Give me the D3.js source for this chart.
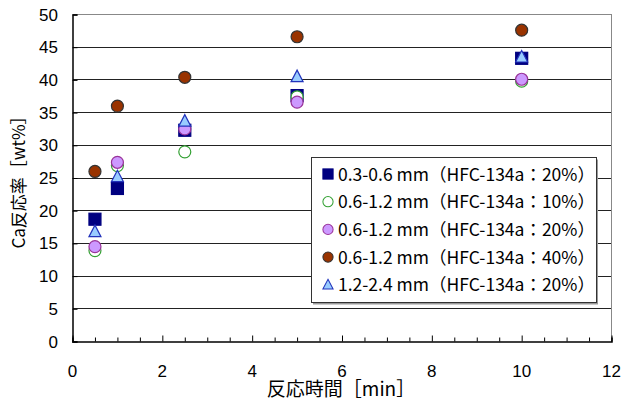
<!DOCTYPE html>
<html>
<head>
<meta charset="utf-8">
<script src="https://cdn.jsdelivr.net/npm/d3@7"></script>
<style>
  body { margin: 0; background: #fff; }
  text { font-family: "Liberation Sans", Arial, sans-serif; }
  .jp { font-family: "Noto Sans CJK JP", sans-serif; }
</style>
</head>
<body>
<div id="chart"></div>
<script>
// data
const times = [0.5, 1, 2.5, 5, 10];
const s1 = [18.7, 23.4, 32.3, 37.6, 43.3];   // 0.3-0.6 mm, 20%
const s2 = [13.9, 26.9, 29.0, 37.4, 39.8];   // 0.6-1.2 mm, 10%
const s3 = [14.5, 27.4, 32.5, 36.6, 40.1];   // 0.6-1.2 mm, 20%
const s4 = [26.0, 36.0, 40.4, 46.6, 47.6];   // 0.6-1.2 mm, 40%
const s5 = [16.8, 25.2, 33.7, 40.5, 43.5];   // 1.2-2.4 mm, 20%
const labels = [
  "0.3-0.6 mm（HFC-134a：20%）",
  "0.6-1.2 mm（HFC-134a：10%）",
  "0.6-1.2 mm（HFC-134a：20%）",
  "0.6-1.2 mm（HFC-134a：40%）",
  "1.2-2.4 mm（HFC-134a：20%）"
];
const xTicks = [0, 2, 4, 6, 8, 10, 12];
const yTicks = [0, 5, 10, 15, 20, 25, 30, 35, 40, 45, 50];

const width = 623;
const height = 398;
const margin = {left: 72.5, right: 11.5, top: 14.5, bottom: 56.5};

const series = [
  {values: s1, shape: "square", fill: "#000080", stroke: "#000080"},
  {values: s2, shape: "circle", fill: "#ffffff", stroke: "#33a033"},
  {values: s3, shape: "circle", fill: "#cc99ff", stroke: "#993399"},
  {values: s4, shape: "circle", fill: "#993300", stroke: "#333333"},
  {values: s5, shape: "triangle", fill: "#99ccff", stroke: "#2233bb"}
];

let svg = d3.select("#chart")
    .append("svg")
    .attr("width", width)
    .attr("height", height);

let xScale = d3.scaleLinear()
    .domain([0, 12])
    .range([margin.left, width - margin.right]);

let yScale = d3.scaleLinear()
    .domain([0, 50])
    .range([height - margin.bottom, margin.top]);

// grid lines
svg.selectAll("line.grid")
    .data(yTicks.filter(d => d > 0 && d < 50))
    .join("line")
    .classed("grid", true)
    .attr("x1", xScale(0))
    .attr("x2", xScale(12))
    .attr("y1", d => yScale(d))
    .attr("y2", d => yScale(d))
    .attr("stroke", "#222")
    .attr("shape-rendering", "crispEdges");

// plot frame (top and right in grey)
svg.append("path")
    .attr("d", `M${xScale(0)},${yScale(50)}H${xScale(12)}V${yScale(0)}`)
    .attr("fill", "none")
    .attr("stroke", "#888")
    .attr("shape-rendering", "crispEdges");

// axes
let xAxis = d3.axisBottom(xScale)
    .tickValues(d3.range(0, 12.01, 0.5))
    .tickSize(-4)
    .tickFormat("");
let gx = svg.append("g")
    .attr("transform", `translate(0, ${yScale(0)})`)
    .call(xAxis);
gx.select(".domain").attr("stroke", "#000").attr("stroke-width", 1.5);
gx.selectAll(".tick line")
    .attr("stroke", "#000")
    .attr("y2", d => d % 2 === 0 ? -6 : -4);

svg.selectAll("text.xlab")
    .data(xTicks)
    .join("text")
    .classed("xlab", true)
    .attr("x", d => xScale(d))
    .attr("y", 377)
    .attr("text-anchor", "middle")
    .style("font-size", "17px")
    .text(d => d);

let yAxis = d3.axisLeft(yScale)
    .tickValues(yTicks)
    .tickSize(-5)
    .tickFormat("");
let gy = svg.append("g")
    .attr("transform", `translate(${xScale(0)}, 0)`)
    .call(yAxis);
gy.select(".domain").attr("stroke", "#000").attr("stroke-width", 1.5);
gy.selectAll(".tick line").attr("stroke", "#000");

svg.selectAll("text.ylab")
    .data(yTicks)
    .join("text")
    .classed("ylab", true)
    .attr("x", 58)
    .attr("y", d => yScale(d) + 6)
    .attr("text-anchor", "end")
    .style("font-size", "17px")
    .text(d => d);

svg.append("text")
    .attr("class", "jp")
    .attr("x", 341)
    .attr("y", 396)
    .attr("text-anchor", "middle")
    .style("font-size", "19px")
    .text("反応時間［min］");

svg.append("text")
    .attr("class", "jp")
    .attr("transform", `translate(25, ${yScale(25)}) rotate(-90)`)
    .attr("text-anchor", "middle")
    .style("font-size", "17px")
    .text("Ca反応率［wt%］");

// markers
let drawMarker = function(g, s) {
    if (s.shape === "square") {
        g.append("rect")
            .attr("x", -6).attr("y", -6)
            .attr("width", 12).attr("height", 12);
    } else if (s.shape === "circle") {
        g.append("circle").attr("r", 6);
    } else {
        g.append("path").attr("d", "M0,-6.5L6,5L-6,5Z");
    }
    g.selectAll("*")
        .attr("fill", s.fill)
        .attr("stroke", s.stroke)
        .attr("stroke-width", 1.2);
};

series.forEach(function(s) {
    svg.append("g")
        .selectAll("g")
        .data(s.values.map((v, i) => ({x: times[i], y: v})))
        .join("g")
        .attr("transform", d => `translate(${xScale(d.x)}, ${yScale(d.y)})`)
        .each(function() { drawMarker(d3.select(this), s); });
});

// legend
let legend = svg.append("g").attr("transform", "translate(311, 157.5)");
legend.append("rect")
    .attr("x", 2).attr("y", 2)
    .attr("width", 285).attr("height", 145)
    .attr("fill", "#999");
legend.append("rect")
    .attr("width", 285).attr("height", 145)
    .attr("fill", "#fff")
    .attr("stroke", "#333")
    .attr("shape-rendering", "crispEdges");

series.forEach(function(s, i) {
    let row = legend.append("g")
        .attr("transform", `translate(17, ${16.5 + i * 27.7})`);
    let m = row.append("g").attr("transform", "scale(0.85)");
    drawMarker(m, s);
    row.append("text")
        .attr("class", "jp")
        .attr("x", 10)
        .attr("y", 6.5)
        .style("font-size", "17.5px")
        .text(labels[i]);
});
</script>
</body>
</html>
